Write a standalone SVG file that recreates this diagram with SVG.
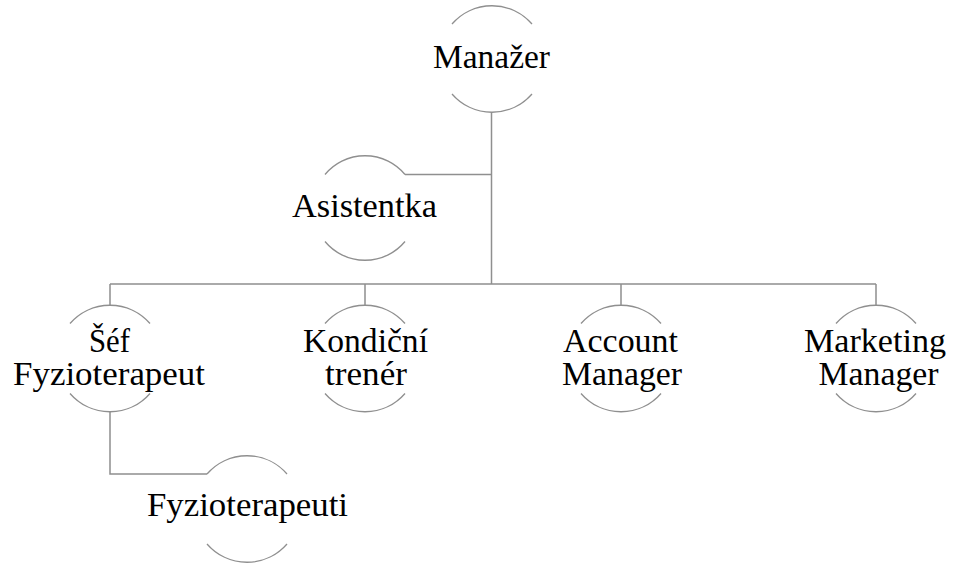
<svg xmlns="http://www.w3.org/2000/svg" width="955" height="563" viewBox="0 0 955 563">
<style>
.arc{fill:none;stroke:#8f8f8f;stroke-width:1.3}
.ln{fill:none;stroke:#8f8f8f;stroke-width:1.5}
text{font-family:"Liberation Serif","Times New Roman",serif;font-size:33px;fill:#000;text-anchor:middle}
</style>
<rect width="955" height="563" fill="#fff"/>
<g id="connectors">
<path class="ln" d="M491.5 112 V284 M405 174.5 H491.5 M110 284 H876 M110 284 V305.5 M365 284 V305.5 M621 284 V305.5 M876 284 V305.5 M110 412 V474 H207"/>
</g>
<g id="n-manazer">
<path class="arc" d="M452 24 A53 53 0 0 1 532 24 M452 94 A53 53 0 0 0 532 94"/>
<text x="491.5" y="68" textLength="117" lengthAdjust="spacingAndGlyphs">Manažer</text>
</g>
<g id="n-asistentka">
<path class="arc" d="M325 174.5 A52 52 0 0 1 405 174.5 M325 241.5 A52 52 0 0 0 405 241.5"/>
<text x="364.5" y="217" textLength="145" lengthAdjust="spacingAndGlyphs">Asistentka</text>
</g>
<g id="n-sef">
<path class="arc" d="M70 323.5 A53 53 0 0 1 150 323.5 M70 393.5 A53 53 0 0 0 150 393.5"/>
<text x="109.5" y="352" textLength="41" lengthAdjust="spacingAndGlyphs">Šéf</text>
<text x="109" y="385" textLength="192" lengthAdjust="spacingAndGlyphs">Fyzioterapeut</text>
</g>
<g id="n-kondicni">
<path class="arc" d="M325 323.5 A53 53 0 0 1 405 323.5 M325 393.5 A53 53 0 0 0 405 393.5"/>
<text x="365.5" y="352" textLength="125" lengthAdjust="spacingAndGlyphs">Kondiční</text>
<text x="366" y="385" textLength="82" lengthAdjust="spacingAndGlyphs">trenér</text>
</g>
<g id="n-account">
<path class="arc" d="M581 323.5 A53 53 0 0 1 661 323.5 M581 393.5 A53 53 0 0 0 661 393.5"/>
<text x="620.5" y="352" textLength="115" lengthAdjust="spacingAndGlyphs">Account</text>
<text x="622" y="385" textLength="120" lengthAdjust="spacingAndGlyphs">Manager</text>
</g>
<g id="n-marketing">
<path class="arc" d="M836 323.5 A53 53 0 0 1 916 323.5 M836 393.5 A53 53 0 0 0 916 393.5"/>
<text x="875" y="352" textLength="142" lengthAdjust="spacingAndGlyphs">Marketing</text>
<text x="878.5" y="385" textLength="120" lengthAdjust="spacingAndGlyphs">Manager</text>
</g>
<g id="n-fyzioterapeuti">
<path class="arc" d="M207 474 A53 53 0 0 1 287 474 M207 544 A53 53 0 0 0 287 544"/>
<text x="247.5" y="516" textLength="201" lengthAdjust="spacingAndGlyphs">Fyzioterapeuti</text>
</g>
</svg>
